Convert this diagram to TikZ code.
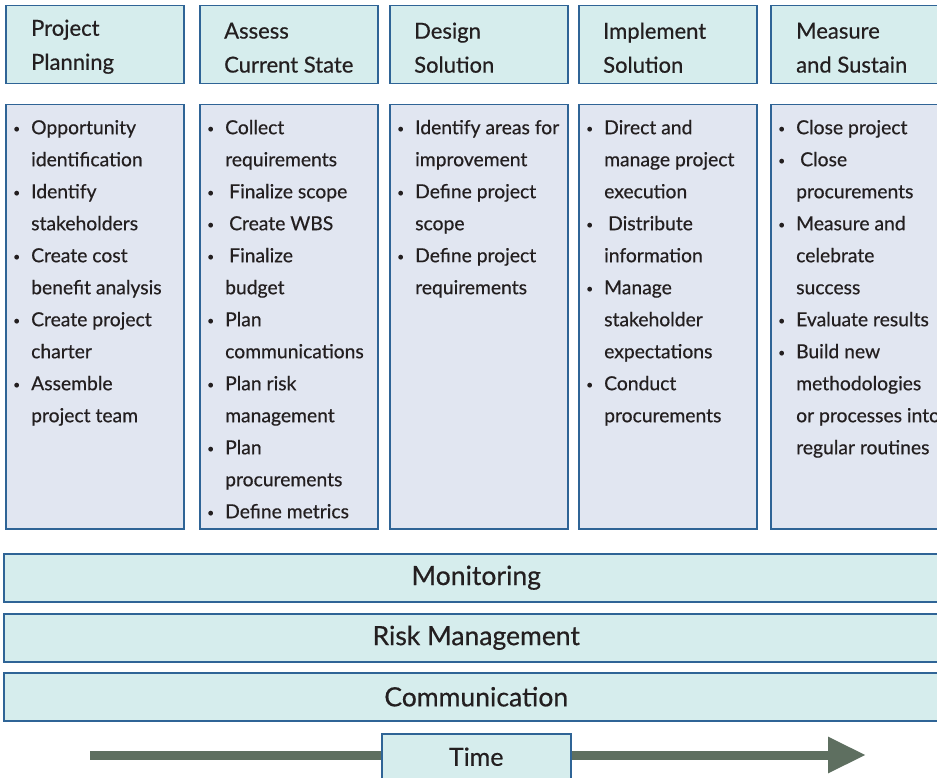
\documentclass[tikz,border=0pt]{standalone}
\usepackage{fontspec}
\setmainfont{Lato}[FakeBold=0.5]
\usetikzlibrary{positioning,arrows.meta}
\definecolor{edgeblue}{HTML}{2F6496}
\definecolor{headfill}{HTML}{D6EDED}
\definecolor{bodyfill}{HTML}{E1E6F1}
\definecolor{arrowgray}{HTML}{5E6F60}
\definecolor{inkdark}{HTML}{231F20}
\newcommand{\listbul}{\makebox[18pt][l]{\rule{0pt}{15pt}\raisebox{1.5pt}{\fontsize{12}{12}\selectfont\textbullet}}}
\newcommand{\listind}{\hspace*{18pt}}

\begin{document}
\begin{tikzpicture}[x=1pt,y=-1pt,
  headbox/.style={draw=edgeblue,line width=1.5pt,fill=headfill,anchor=north west,minimum width=178pt,minimum height=78pt,inner sep=0pt},
  listbox/.style={draw=edgeblue,line width=1.5pt,fill=bodyfill,anchor=north west,minimum width=178pt,minimum height=424pt,inner sep=0pt},
  headtext/.style={anchor=west,align=left,inner sep=0pt,text=inkdark,font=\fontsize{22}{34}\selectfont},
  listtext/.style={anchor=north west,align=left,inner sep=0pt,text=inkdark,font=\fontsize{19.3}{32}\selectfont},
  band/.style={draw=edgeblue,line width=1.5pt,fill=headfill,anchor=north west,minimum width=945pt,minimum height=48pt,inner sep=0pt,text=inkdark,font=\fontsize{26.5}{30}\selectfont}]
  \useasboundingbox (0,0) rectangle (937,778);
  % phase columns
  \foreach \n/\x in {1/5,2/199,3/389,4/578,5/770}{
    \node[headbox] (h\n) at (\x,5) {};
    \node[listbox] (b\n) at (\x,104) {};
  }
  \node[headtext] (t1) at ([xshift=26pt,yshift=-2pt]h1.west) {Project\\Planning};
  \node[headtext] (t2) at ([xshift=25pt,yshift=-3pt]h2.west) {Assess\\Current State};
  \node[headtext] (t3) at ([xshift=25pt,yshift=-3pt]h3.west) {Design\\Solution};
  \node[headtext] (t4) at ([xshift=25pt,yshift=-3pt]h4.west) {Implement\\Solution};
  \node[headtext] (t5) at ([xshift=26pt,yshift=-3pt]h5.west) {Measure\\and Sustain};
  % task lists
  \node[listtext] (l1) at (13,119) {\listbul Opportunity\\ \listind identification\\
    \listbul Identify\\ \listind stakeholders\\
    \listbul Create cost\\ \listind benefit analysis\\
    \listbul Create project\\ \listind charter\\
    \listbul Assemble\\ \listind project team};
  \node[listtext] (l2) at (207,119) {\listbul Collect\\ \listind requirements\\
    \listbul\hspace{4pt}Finalize scope\\
    \listbul\hspace{4pt}Create WBS\\
    \listbul\hspace{4pt}Finalize\\ \listind budget\\
    \listbul Plan\\ \listind communications\\
    \listbul Plan risk\\ \listind management\\
    \listbul Plan\\ \listind procurements\\
    \listbul Define metrics};
  \node[listtext] (l3) at (397,119) {\listbul Identify areas for\\ \listind improvement\\
    \listbul Define project\\ \listind scope\\
    \listbul Define project\\ \listind requirements};
  \node[listtext] (l4) at (586,119) {\listbul Direct and\\ \listind manage project\\ \listind execution\\
    \listbul\hspace{4pt}Distribute\\ \listind information\\
    \listbul Manage\\ \listind stakeholder\\ \listind expectations\\
    \listbul Conduct\\ \listind procurements};
  \node[listtext] (l5) at (778,119) {\listbul Close project\\
    \listbul\hspace{4pt}Close\\ \listind procurements\\
    \listbul Measure and\\ \listind celebrate\\ \listind success\\
    \listbul Evaluate results\\
    \listbul Build new\\ \listind methodologies\\ \listind or processes into\\ \listind regular routines};
  % ongoing activities
  \node[band] (mon) at (3,553) {Monitoring};
  \node[band] (risk) at (3,613) {Risk Management};
  \node[band] (comm) at (3,672) {Communication};
  % time axis
  \coordinate (tail) at (90,755);
  \coordinate (tip) at (866,755);
  \draw[arrowgray,line width=9pt,-{Triangle[length=38pt,width=34pt]}] (tail) -- (tip);
  \node[draw=edgeblue,line width=1.5pt,fill=headfill,anchor=north west,minimum width=189pt,minimum height=46pt,inner sep=0pt,text=inkdark,font=\fontsize{25}{30}\selectfont] (time) at (381,733) {Time};
\end{tikzpicture}
\end{document}
